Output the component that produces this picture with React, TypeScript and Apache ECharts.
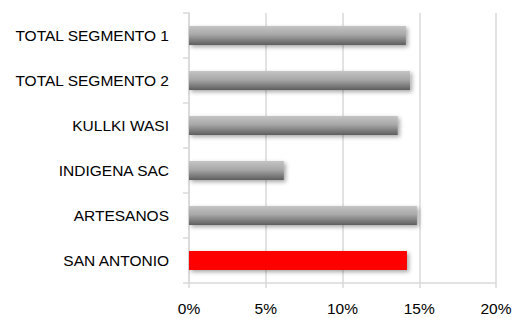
import React, { useEffect, useRef } from "react";
import * as echarts from "echarts";

const categories = [
  "TOTAL SEGMENTO 1",
  "TOTAL SEGMENTO 2",
  "KULLKI WASI",
  "INDIGENA SAC",
  "ARTESANOS",
  "SAN ANTONIO",
];
const values = [0.1413, 0.144, 0.136, 0.0618, 0.1485, 0.142];
const highlighted = "SAN ANTONIO";

export default function App() {
  const ref = useRef<HTMLDivElement>(null);
  useEffect(() => {
    if (!ref.current) return;
    const chart = echarts.init(ref.current, null, { renderer: "svg" });
    const gray = new echarts.graphic.LinearGradient(0, 0, 0, 1, [
      { offset: 0, color: "#c4c4c4" },
      { offset: 0.45, color: "#a8a8a8" },
      { offset: 1, color: "#5e5e5e" },
    ]);
    const font = "'Liberation Sans', Arial, sans-serif";
    chart.setOption({
      animation: false,
      grid: { left: 189, right: 21, top: 13, bottom: 35, containLabel: false },
      xAxis: {
        type: "value",
        min: 0,
        max: 0.2,
        interval: 0.05,
        axisLine: { show: true, lineStyle: { color: "#d9d9d9", width: 1.5 } },
        axisTick: { show: true, length: 5, lineStyle: { color: "#d9d9d9", width: 1.5 } },
        splitLine: { show: true, lineStyle: { color: "#d9d9d9", width: 1.5 } },
        axisLabel: {
          formatter: (v: number) => Math.round(v * 100) + "%",
          color: "#000",
          fontSize: 15.5,
          fontFamily: font,
          margin: 17,
        },
      },
      yAxis: {
        type: "category",
        data: categories,
        inverse: true,
        axisLine: { show: true, lineStyle: { color: "#d9d9d9", width: 1.5 } },
        axisTick: { show: true, length: 6, lineStyle: { color: "#d9d9d9", width: 1.5 } },
        axisLabel: {
          color: "#000",
          fontSize: 15.5,
          fontFamily: font,
          margin: 20,
        },
      },
      series: [
        {
          type: "bar",
          barWidth: 19,
          data: values.map((v, i) => ({
            value: v,
            itemStyle: {
              color: categories[i] === highlighted ? "#ff0000" : gray,
              shadowColor: "rgba(0,0,0,0.35)",
              shadowBlur: 4,
              shadowOffsetX: 2,
              shadowOffsetY: 2,
            },
          })),
        },
      ],
    });
    return () => chart.dispose();
  }, []);
  return (
    <div
      ref={ref}
      style={{ position: "fixed", left: 0, top: 0, width: 517, height: 318, background: "#fff" }}
    />
  );
}
